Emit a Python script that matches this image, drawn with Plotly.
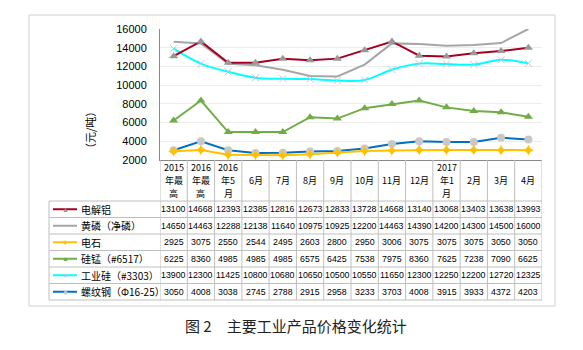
import plotly.graph_objects as go

categories = ["2015<br>年最<br>高", "2016<br>年最<br>高", "2016<br>年5<br>月", "6月", "7月", "8月", "9月",
              "10月", "11月", "12月", "2017<br>年1<br>月", "2月", "3月", "4月"]
series_names = ["电解铝", "黄磷（净磷）", "电石", "硅锰（#6517）", "工业硅（#3303）", "螺纹钢（Φ16-25）"]
aluminium = [13100, 14668, 12393, 12385, 12816, 12673, 12833, 13728, 14668, 13140, 13068, 13403, 13638, 13993]
phosphorus = [14650, 14463, 12288, 12138, 11640, 10975, 10925, 12200, 14463, 14390, 14200, 14300, 14500, 16000]
carbide = [2925, 3075, 2550, 2544, 2495, 2603, 2800, 2950, 3006, 3075, 3075, 3075, 3050, 3050]
simn = [6225, 8360, 4985, 4985, 4985, 6575, 6425, 7538, 7975, 8360, 7625, 7238, 7090, 6625]
silicon = [13900, 12300, 11425, 10800, 10680, 10650, 10500, 10550, 11650, 12300, 12250, 12200, 12720, 12325]
rebar = [3050, 4008, 3038, 2745, 2788, 2915, 2958, 3233, 3703, 4008, 3915, 3933, 4372, 4203]
y_ticks = [2000, 4000, 6000, 8000, 10000, 12000, 14000, 16000]
y_title = "（元/吨）"
fig_title = "图 2　主要工业产品价格变化统计"

all_series = [aluminium, phosphorus, carbide, simn, silicon, rebar]

W, H = 583, 350
L, R, T, B = 160, 542, 29, 160  # plot area pixels


def px2x(px):
    return (px - L) / (R - L)


def py2y(py):
    return (B - py) / (B - T)


styles = [
    dict(line=dict(color="#A50021", width=2), marker=dict(symbol="triangle-up", size=8, color="#999999"), mode="lines+markers"),
    dict(line=dict(color="#A6A6A6", width=2), mode="lines"),
    dict(line=dict(color="#FFC000", width=2), marker=dict(symbol="star-diamond", size=8, color="#FFC000"), mode="lines+markers"),
    dict(line=dict(color="#70AD47", width=2), marker=dict(symbol="triangle-up", size=8, color="#70AD47"), mode="lines+markers"),
    dict(line=dict(color="#00FFFF", width=2, shape="spline"), marker=dict(symbol="x-thin", size=7, line=dict(color="#B4C7E7", width=1)), mode="lines+markers"),
    dict(line=dict(color="#0070C0", width=2), marker=dict(symbol="circle", size=8, color="#C8C8C8"), mode="lines+markers"),
]

xs = list(range(len(categories)))
fig = go.Figure()
draw_order = [5, 2, 3, 4, 1, 0]
for i in draw_order:
    fig.add_trace(go.Scatter(x=xs, y=all_series[i], name=series_names[i], showlegend=False, **styles[i]))

shapes = []
annotations = []
grid = "#BFBFBF"
# outer frame
shapes.append(dict(type="rect", xref="paper", yref="paper", x0=px2x(29), x1=px2x(555), y0=py2y(306), y1=py2y(15),
                   line=dict(color="#D0D0D0", width=1)))
# table vertical lines
for k in range(len(categories) + 1):
    shapes.append(dict(type="line", xref="x", yref="paper", x0=k - 0.5, x1=k - 0.5, y0=py2y(300), y1=py2y(160),
                       line=dict(color=grid, width=1)))
shapes.append(dict(type="line", xref="paper", yref="paper", x0=px2x(49), x1=px2x(49), y0=py2y(300), y1=py2y(201),
                   line=dict(color=grid, width=1)))
row_lines = [201, 217.5, 234, 250.5, 267, 283.5, 300]
for py in row_lines:
    shapes.append(dict(type="line", xref="paper", yref="paper", x0=px2x(49), x1=1, y0=py2y(py), y1=py2y(py),
                       line=dict(color=grid, width=1)))

# header (each line its own text)
for i, c in enumerate(categories):
    parts = c.split("<br>")
    n = len(parts)
    line_gap = 13
    for j, p in enumerate(parts):
        cy = 180.5 + (j - (n - 1) / 2) * line_gap
        annotations.append(dict(x=i, y=py2y(cy), xref="x", yref="paper", text=p, showarrow=False,
                                font=dict(family="Noto Sans CJK SC", size=9, color="#000"),
                                xanchor="center", yanchor="middle"))

legend_marks = ["▲", "", "◆", "▲", "×", "●"]
legend_mark_colors = ["#999999", "#A6A6A6", "#FFC000", "#70AD47", "#B4C7E7", "#C8C8C8"]
legend_mark_sizes = [7, 7, 6, 7, 9, 8]
for r, (name, vals) in enumerate(zip(series_names, all_series)):
    cy = (row_lines[r] + row_lines[r + 1]) / 2
    shapes.append(dict(type="line", xref="paper", yref="paper", x0=px2x(53), x1=px2x(77), y0=py2y(cy), y1=py2y(cy),
                       line=dict(color=styles[r]["line"]["color"], width=2)))
    if legend_marks[r]:
        annotations.append(dict(x=px2x(65), y=py2y(cy), xref="paper", yref="paper", text=legend_marks[r],
                                showarrow=False, font=dict(size=legend_mark_sizes[r], color=legend_mark_colors[r]),
                                xanchor="center", yanchor="middle"))
    annotations.append(dict(x=px2x(79), y=py2y(cy), xref="paper", yref="paper", text=name, showarrow=False,
                            font=dict(family="Noto Sans CJK SC", size=10, color="#000"),
                            xanchor="left", yanchor="middle"))
    for i, v in enumerate(vals):
        annotations.append(dict(x=i, y=py2y(cy), xref="x", yref="paper", text=str(v), showarrow=False,
                                font=dict(family="Liberation Sans", size=8.8, color="#000"),
                                xanchor="center", yanchor="middle"))

# y axis title
annotations.append(dict(x=px2x(90), y=py2y(130), xref="paper", yref="paper", text=y_title, showarrow=False,
                        textangle=-90, font=dict(family="Noto Sans CJK SC", size=11, color="#000"),
                        xanchor="center", yanchor="middle"))
# figure caption
annotations.append(dict(x=px2x(296), y=py2y(325), xref="paper", yref="paper", text=fig_title, showarrow=False,
                        font=dict(family="Noto Sans CJK SC", size=15, color="#222"),
                        xanchor="center", yanchor="middle"))

fig.update_layout(
    width=W, height=H,
    margin=dict(l=L, r=W - R, t=T, b=H - B),
    paper_bgcolor="white", plot_bgcolor="white",
    shapes=shapes, annotations=annotations,
    xaxis=dict(range=[-0.5, len(categories) - 0.5], showticklabels=False, showgrid=False, zeroline=False,
               showline=True, linecolor="#898989", linewidth=1, ticks=""),
    yaxis=dict(range=[2000, 16000], tickvals=y_ticks, ticktext=[str(v) for v in y_ticks],
               showgrid=True, gridcolor="#EDEDED", gridwidth=1,
               zeroline=False, showline=True, linecolor="#898989", linewidth=1, ticks="",
               ticklabelstandoff=10,
               tickfont=dict(family="Liberation Sans", size=11, color="#000")),
)

fig.write_html("out.html")
